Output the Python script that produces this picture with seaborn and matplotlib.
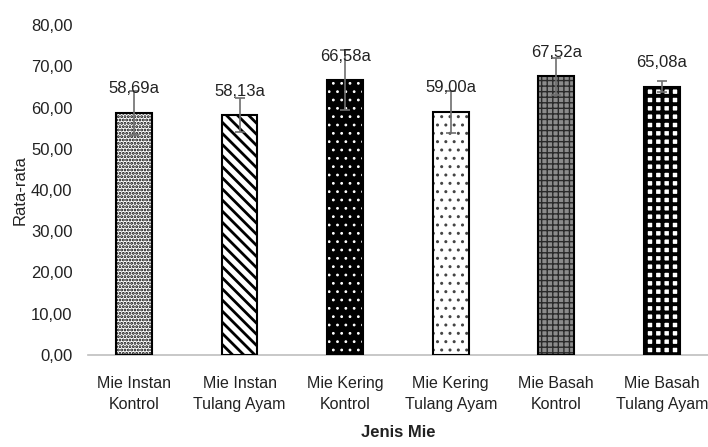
import numpy as np
import pandas as pd
import matplotlib
matplotlib.use('Agg')
import matplotlib.pyplot as plt
import seaborn as sns

# data
jenis = ['Mie Instan\nKontrol', 'Mie Instan\nTulang Ayam', 'Mie Kering\nKontrol',
         'Mie Kering\nTulang Ayam', 'Mie Basah\nKontrol', 'Mie Basah\nTulang Ayam']
rata = [58.69, 58.13, 66.58, 59.00, 67.52, 65.08]
sd = [5.3, 4.1, 7.3, 5.1, 4.6, 1.3]
notasi = ['a', 'a', 'a', 'a', 'a', 'a']

df = pd.DataFrame({'Jenis Mie': jenis, 'Rata-rata': rata})

sns.set_style('white')
plt.rcParams['font.family'] = ['Liberation Sans', 'DejaVu Sans']

fig = plt.figure(figsize=(7.08, 4.47), dpi=100)
ax = fig.add_axes([0.124, 0.206, 0.876, 0.738])

sns.barplot(data=df, x='Jenis Mie', y='Rata-rata', color='white', width=0.34,
            edgecolor='black', linewidth=1.5, ax=ax)

# pola arsiran tiap batang
faces = ['white', 'white', 'black', 'white', '#8c8c8c', 'white']
hatch_col = ['black', 'black', 'white', '#444444', '#2a2a2a', 'black']
hatches = ['.....', '\\\\\\', '..', '..', '+++', '++']
hatch_lw = [1.4, 2.0, 0.8, 1.0, 1.0, 2.8]
for i, p in enumerate(ax.patches):
    p.set_facecolor(faces[i])
    p.set_hatch(hatches[i])
    p.set_edgecolor(hatch_col[i])
    p.set_linewidth(0)
    if hasattr(p, 'set_hatch_linewidth'):
        p.set_hatch_linewidth(hatch_lw[i])
    # garis tepi di atas arsiran
    ax.add_patch(plt.Rectangle((p.get_x(), 0), p.get_width(), p.get_height(),
                               fill=False, edgecolor='black', linewidth=1.5, zorder=3))

x = np.arange(len(jenis))
ax.errorbar(x, rata, yerr=sd, fmt='none', ecolor='#6e6e6e', elinewidth=1.2,
            capsize=3.5, capthick=1.2, zorder=4)

for xi, v, n in zip(x, rata, notasi):
    ax.annotate(f'{v:.2f}'.replace('.', ',') + n, (xi, v), xytext=(0, 12),
                textcoords='offset points', ha='center', va='bottom',
                fontsize=12, color='#222222', zorder=5)

ax.set_ylim(0, 80)
ax.set_yticks(np.arange(0, 81, 10))
ax.set_yticklabels([f'{t:.2f}'.replace('.', ',') for t in np.arange(0, 81, 10)])
ax.set_xticks(x)
ax.set_xticklabels(jenis, fontsize=11.5)
ax.tick_params(axis='both', length=0, colors='#222222')
ax.tick_params(axis='y', pad=11, labelsize=12)
ax.tick_params(axis='x', pad=15)
for s in ['top', 'right', 'left']:
    ax.spines[s].set_visible(False)
ax.spines['bottom'].set_color('#bfbfbf')
ax.spines['bottom'].set_linewidth(1.2)

ax.set_ylabel('Rata-rata', fontsize=12, color='#222222', labelpad=2)
ax.set_xlabel('Jenis Mie', fontsize=12, fontweight='bold', color='#222222', labelpad=9)

fig.canvas.draw()
for lbl in ax.get_xticklabels():
    lbl.set_linespacing(1.55)

fig.savefig('out.png', dpi=100)
